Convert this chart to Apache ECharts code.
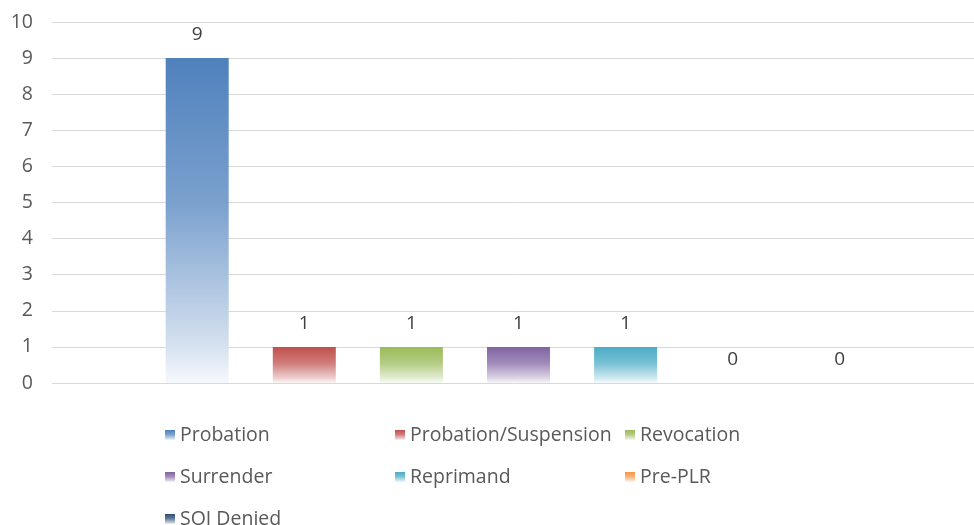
<!DOCTYPE html>
<html lang="en">
<head>
    <meta charset="utf-8">
    <script src="https://cdn.jsdelivr.net/npm/echarts@6/dist/echarts.min.js"></script>
    <title>Outcomes</title>
    <style>
        html, body { margin: 0; padding: 0; background: #fff; }
        #main { width: 974px; height: 525px; }
    </style>
</head>
<body>
<div id="main"></div>
<script type="text/javascript">
    // data
    var categories = [''];
    var seriesNames = ['Probation', 'Probation/Suspension', 'Revocation', 'Surrender', 'Reprimand', 'Pre-PLR', 'SOI Denied'];
    var seriesValues = [9, 1, 1, 1, 1, 0, 0];
    var seriesColors = ['#4F81BD', '#C0504D', '#9BBB59', '#8064A2', '#4BACC6', '#F79646', '#2C4D75'];
    var yTicks = [0, 1, 2, 3, 4, 5, 6, 7, 8, 9, 10];

    // blend a hex colour towards white
    function lighten(hex, t) {
        var r = parseInt(hex.substr(1, 2), 16), g = parseInt(hex.substr(3, 2), 16), b = parseInt(hex.substr(5, 2), 16);
        r = Math.round(r + (255 - r) * t); g = Math.round(g + (255 - g) * t); b = Math.round(b + (255 - b) * t);
        return 'rgb(' + r + ',' + g + ',' + b + ')';
    }

    function fade(hex) {
        return new echarts.graphic.LinearGradient(0, 0, 0, 1, [
            {offset: 0, color: hex},
            {offset: 0.45, color: lighten(hex, 0.25)},
            {offset: 0.88, color: lighten(hex, 0.75)},
            {offset: 1, color: lighten(hex, 0.95)}
        ]);
    }

    var myChart = echarts.init(document.getElementById('main'), null, {renderer: 'canvas'});

    var series = seriesNames.map(function (name, i) {
        return {
            name: name,
            type: 'bar',
            data: [seriesValues[i]],
            barWidth: 63,
            barGap: '70%',
            itemStyle: {color: fade(seriesColors[i])},
            label: {
                show: true,
                position: 'top',
                distance: 14,
                color: '#404040',
                fontSize: 19,
                fontFamily: 'Open Sans'
            }
        };
    });

    var option = {
        animation: false,
        color: seriesColors,
        grid: {
            left: 52,
            width: 933,
            top: 22,
            bottom: 142,
            outerBoundsMode: 'none'
        },
        legend: {
            data: seriesNames,
            left: 160,
            top: 415,
            width: 700,
            icon: 'rect',
            itemWidth: 10,
            itemHeight: 10,
            itemGap: 12,
            textStyle: {
                color: '#595959',
                fontSize: 19.5,
                fontFamily: 'Open Sans',
                width: 203,
                overflow: 'none',
                lineHeight: 30
            }
        },
        xAxis: {
            type: 'category',
            data: categories,
            axisLine: {show: false},
            axisTick: {show: false},
            axisLabel: {show: false}
        },
        yAxis: {
            type: 'value',
            min: yTicks[0],
            max: yTicks[yTicks.length - 1],
            interval: 1,
            axisLine: {show: false},
            axisTick: {show: false},
            axisLabel: {
                color: '#595959',
                fontSize: 19.5,
                fontFamily: 'Open Sans',
                margin: 19
            },
            splitLine: {lineStyle: {color: '#D9D9D9', width: 1}}
        },
        series: series
    };

    myChart.setOption(option);
</script>
</body>
</html>
